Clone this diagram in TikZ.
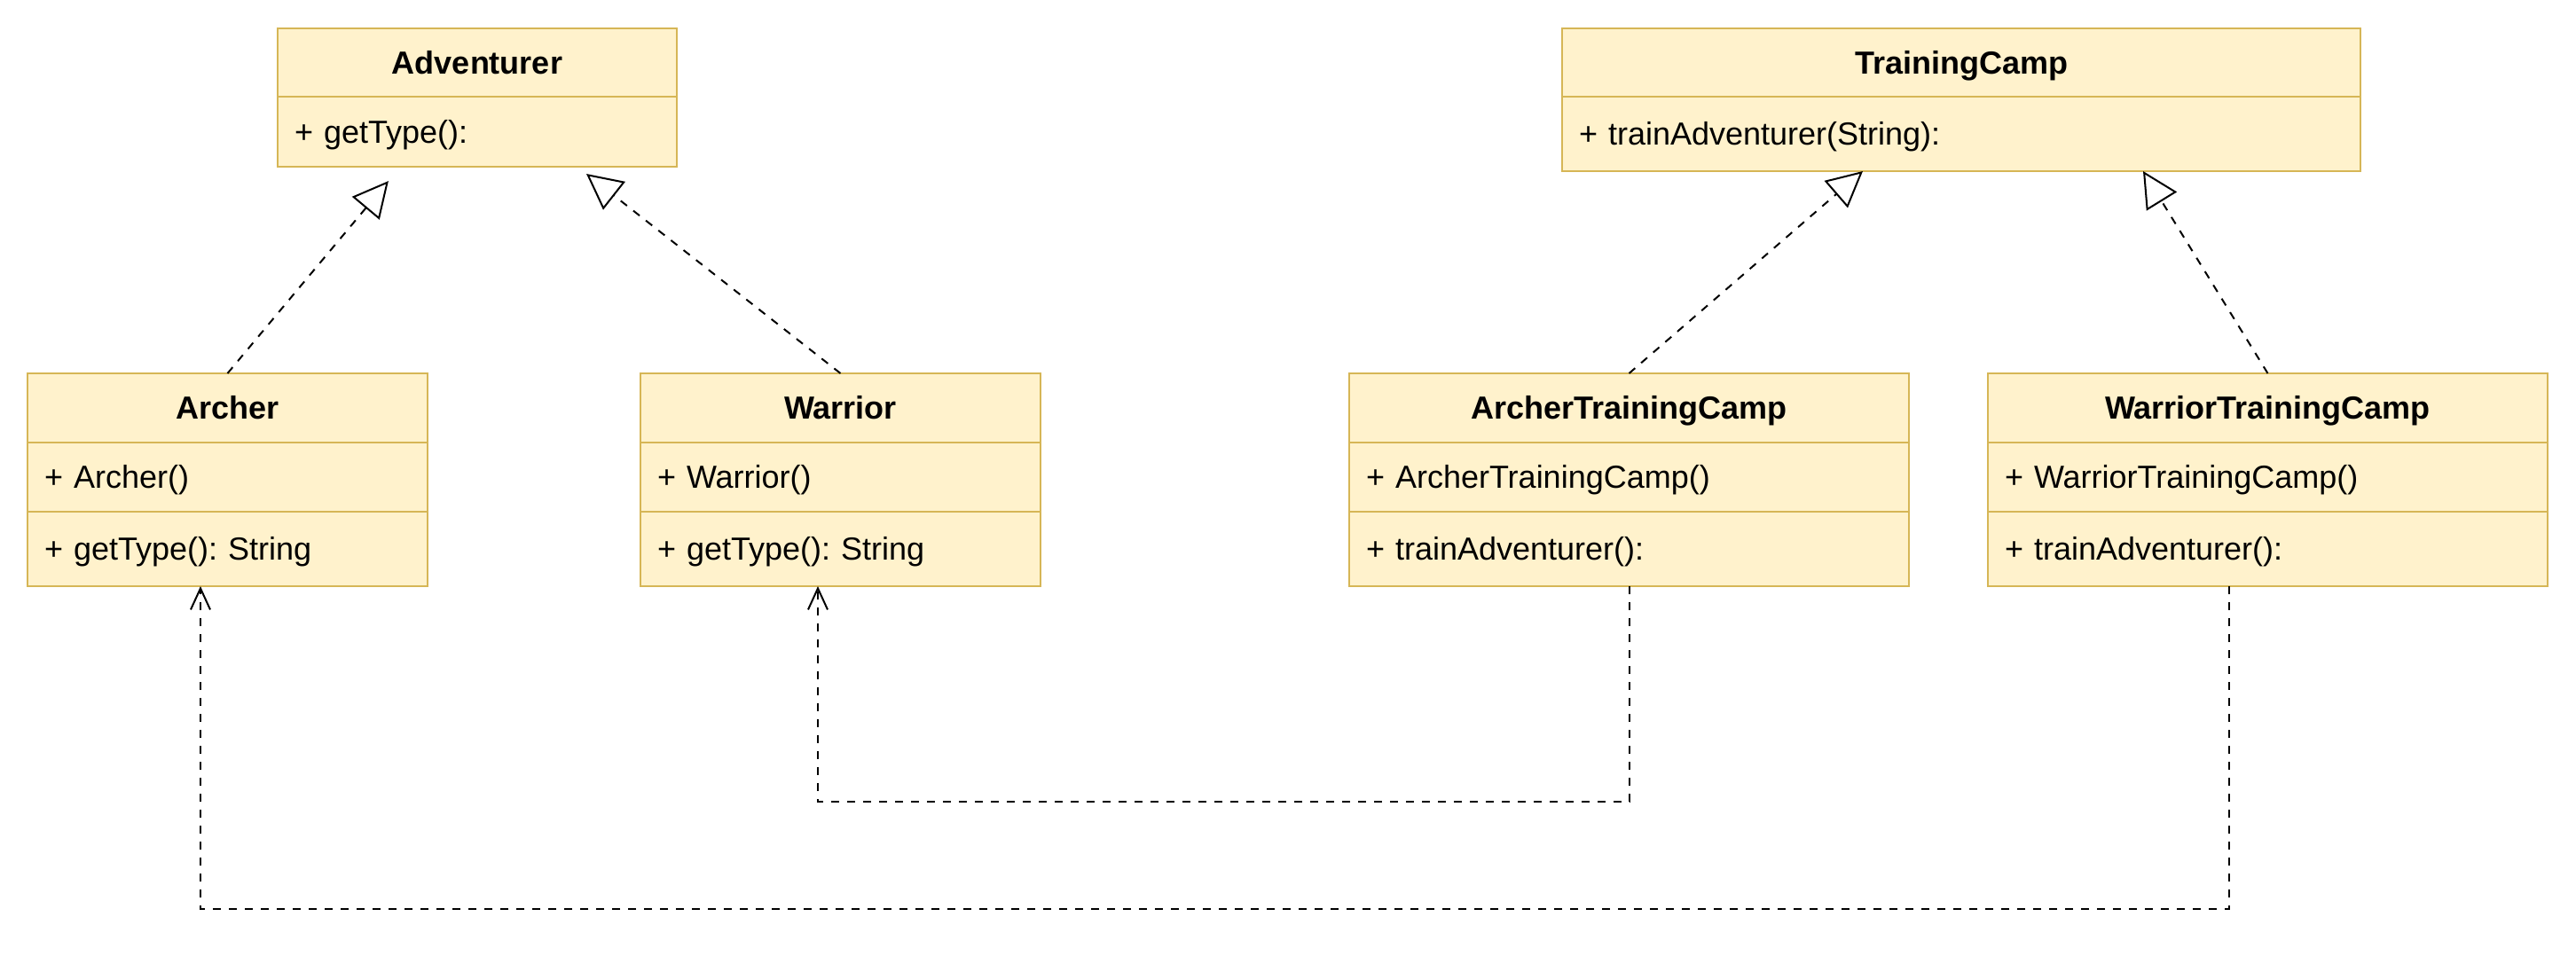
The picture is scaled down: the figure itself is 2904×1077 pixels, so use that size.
\documentclass[tikz,border=0pt]{standalone}
\usepackage{fontspec}
\setmainfont{Liberation Sans}
\usetikzlibrary{positioning,arrows.meta}
\definecolor{classfill}{HTML}{FFF2CC}
\definecolor{classline}{HTML}{D6B656}
\frenchspacing

\begin{document}
\begin{tikzpicture}[x=0.5pt,y=-0.5pt,
  font=\fontsize{18pt}{21pt}\selectfont,
  classbox/.style={draw=classline,fill=classfill,line width=1pt,outer sep=0pt,
    inner xsep=9.5pt,inner ysep=0pt,text height=12.9pt,text depth=0pt},
  classhead/.style={classbox,font=\fontsize{18pt}{21pt}\selectfont\bfseries,
    minimum width=#1,minimum height=39pt},
  classrow/.style={classbox,text width=#1,align=left,minimum height=39pt},
  classlast/.style={classrow=#1,minimum height=42pt},
  realize/.style={line width=1pt,dash pattern=on 4.5pt off 4.5pt,
    -{Triangle[open,length=20pt,width=20pt]}},
  depend/.style={line width=1pt,dash pattern=on 4.5pt off 4.5pt,
    -{Straight Barb[length=12pt,width=11pt]}}]
  \useasboundingbox (0,0) rectangle (2904,1077);

  % Interfaces on top
  \node[classhead=225pt,minimum height=38.5pt]   (adv)   at (538,70.5)   {Adventurer};
  \node[classrow=206pt,minimum height=39.5pt,below=0pt of adv]  (advm)  {+ getType():};
  \node[classhead=450pt,minimum height=38.5pt]   (tc)    at (2211,70.5)  {TrainingCamp};
  \node[classlast=431pt,below=0pt of tc]         (tcm)   {+ trainAdventurer(String):};

  % Classes below
  \node[classhead=225.5pt]                       (arch)  at (256.5,460)  {Archer};
  \node[classrow=206.5pt,below=0pt of arch]      (archc) {+ Archer()};
  \node[classlast=206.5pt,below=0pt of archc]    (archm) {+ getType(): String};
  \node[classhead=225.5pt]                       (war)   at (947.5,460)  {Warrior};
  \node[classrow=206.5pt,below=0pt of war]       (warc)  {+ Warrior()};
  \node[classlast=206.5pt,below=0pt of warc]     (warm)  {+ getType(): String};
  \node[classhead=315.5pt]                       (atc)   at (1836.5,460) {ArcherTrainingCamp};
  \node[classrow=296.5pt,below=0pt of atc]       (atcc)  {+ ArcherTrainingCamp()};
  \node[classlast=296.5pt,below=0pt of atcc]     (atcm)  {+ trainAdventurer():};
  \node[classhead=315.5pt]                       (wtc)   at (2556.5,460) {WarriorTrainingCamp};
  \node[classrow=296.5pt,below=0pt of wtc]       (wtcc)  {+ WarriorTrainingCamp()};
  \node[classlast=296.5pt,below=0pt of wtcc]     (wtcm)  {+ trainAdventurer():};

  % Realizations
  \draw[realize,shorten >=10.5pt] (arch.north) -- ([xshift=-43.3pt]advm.south);
  \draw[realize,shorten >=6.5pt]  (war.north)  -- ([xshift=56.4pt]advm.south);
  \draw[realize] (atc.north) -- ([xshift=-55.5pt]tcm.south);
  \draw[realize] (wtc.north) -- ([xshift=102.5pt]tcm.south);

  % Dependencies
  \draw[depend] (atcm.south) -- ++(0,243) -| ([xshift=-12.75pt]warm.south);
  \draw[depend] ([xshift=-21.75pt]wtcm.south) -- ++(0,364) -| ([xshift=-15.25pt]archm.south);
\end{tikzpicture}
\end{document}
